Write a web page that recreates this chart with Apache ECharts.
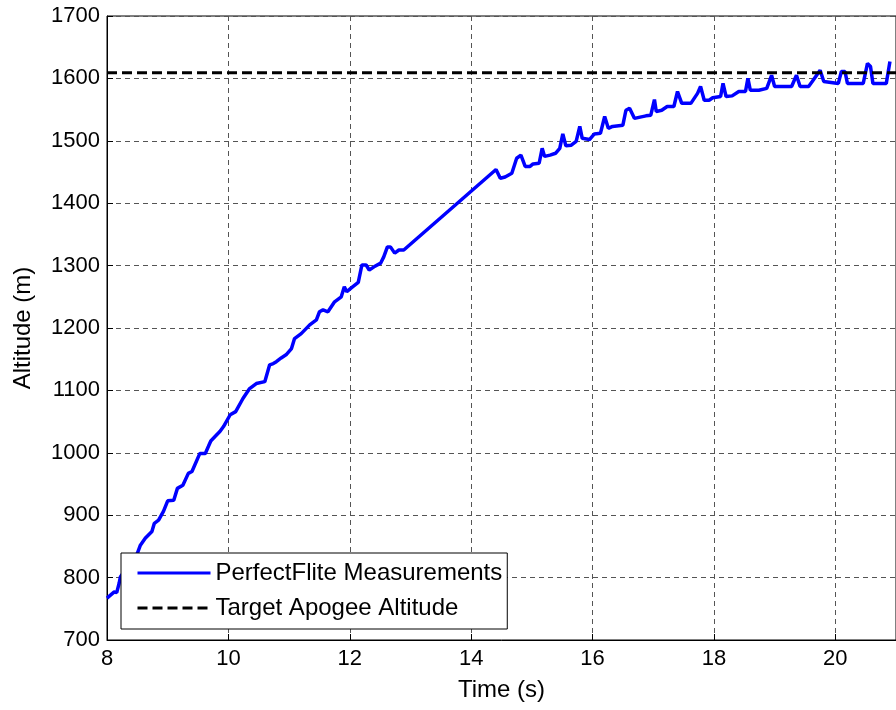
<!DOCTYPE html>
<html>
<head>
<meta charset="utf-8">
<script src="https://cdn.jsdelivr.net/npm/echarts@6/dist/echarts.min.js"></script>
<style>
html,body{margin:0;padding:0;background:#fff;}
#chart{width:896px;height:710px;}
</style>
</head>
<body>
<div id="chart"></div>
<script>
// Time (s)
var timeValues = [8.00, 8.12, 8.16, 8.20, 8.22, 8.30, 8.40, 8.50, 8.55, 8.63, 8.74, 8.78, 8.85, 8.93, 9.00, 9.10, 9.16, 9.25, 9.34, 9.40, 9.53, 9.62, 9.67, 9.71, 9.78, 9.86, 9.92, 10.03, 10.12, 10.24, 10.35, 10.46, 10.60, 10.68, 10.74, 10.79, 10.87, 10.95, 11.04, 11.09, 11.20, 11.34, 11.45, 11.50, 11.56, 11.64, 11.75, 11.86, 11.91, 11.95, 12.02, 12.14, 12.20, 12.27, 12.32, 12.40, 12.51, 12.56, 12.62, 12.67, 12.74, 12.81, 12.89, 14.41, 14.48, 14.56, 14.67, 14.75, 14.82, 14.89, 14.97, 15.02, 15.12, 15.17, 15.21, 15.30, 15.39, 15.46, 15.51, 15.56, 15.65, 15.73, 15.79, 15.83, 15.95, 16.03, 16.13, 16.20, 16.26, 16.33, 16.50, 16.55, 16.61, 16.69, 16.88, 16.96, 17.02, 17.05, 17.14, 17.23, 17.34, 17.40, 17.47, 17.62, 17.73, 17.78, 17.84, 17.92, 17.98, 18.11, 18.15, 18.20, 18.30, 18.41, 18.52, 18.56, 18.60, 18.74, 18.87, 18.95, 19.00, 19.28, 19.36, 19.42, 19.56, 19.62, 19.75, 19.81, 20.05, 20.10, 20.16, 20.20, 20.46, 20.53, 20.58, 20.62, 20.84, 20.90];
// Altitude (m), PerfectFlite measurements
var altitudeValues = [767, 777, 776, 791, 801, 812, 825, 839, 852, 863, 874, 887, 892, 906, 923, 924, 943, 948, 967, 970, 999, 999, 1010, 1019, 1026, 1034, 1042, 1061, 1066, 1087, 1103, 1111, 1114, 1141, 1143, 1146, 1152, 1157, 1167, 1183, 1191, 1205, 1213, 1226, 1229, 1226, 1242, 1250, 1266, 1258, 1264, 1273, 1301, 1301, 1293, 1298, 1304, 1314, 1330, 1330, 1320, 1325, 1325, 1454, 1440, 1442, 1448, 1472, 1477, 1459, 1459, 1463, 1464, 1488, 1475, 1477, 1480, 1488, 1511, 1492, 1493, 1499, 1523, 1504, 1502, 1511, 1512, 1539, 1520, 1523, 1525, 1549, 1552, 1536, 1540, 1541, 1566, 1547, 1549, 1555, 1555, 1579, 1560, 1560, 1576, 1587, 1565, 1565, 1569, 1571, 1592, 1571, 1572, 1579, 1579, 1600, 1581, 1581, 1584, 1605, 1587, 1587, 1605, 1587, 1587, 1595, 1613, 1595, 1592, 1611, 1611, 1592, 1592, 1624, 1619, 1592, 1592, 1627];
// Target apogee
var targetTimes = [8, 21];
var targetAltitude = 1609;

var seriesNames = ['PerfectFlite Measurements', 'Target Apogee Altitude'];
var xLabelName = 'Time (s)';
var yLabelName = 'Altitude (m)';

var measured = timeValues.map(function(t, i){ return [t, altitudeValues[i]]; });
var target = targetTimes.map(function(t){ return [t, targetAltitude]; });

var font = 'Liberation Sans, Arial, sans-serif';
var gridLine = {show: true, lineStyle: {color: '#555', type: [5, 4], width: 1}};
var plain = function(v){ return String(v); };

var chart = echarts.init(document.getElementById('chart'), null, {renderer: 'canvas'});
chart.setOption({
  backgroundColor: '#fff',
  animation: false,
  grid: {left: 107, top: 16, width: 794, height: 624, show: true, borderColor: '#000', borderWidth: 1, backgroundColor: 'transparent'},
  xAxis: {
    type: 'value', min: 8, max: 21, interval: 2,
    name: xLabelName, nameLocation: 'middle', nameGap: 38,
    nameTextStyle: {fontFamily: font, fontSize: 24, color: '#000'},
    axisLine: {show: true, onZero: false, lineStyle: {color: '#000', width: 1}},
    axisTick: {show: true, inside: true, length: 6, lineStyle: {color: '#000'}},
    axisLabel: {fontFamily: font, fontSize: 22, color: '#000', margin: 8, showMaxLabel: false, formatter: plain},
    splitLine: gridLine
  },
  yAxis: {
    type: 'value', min: 700, max: 1700, interval: 100,
    name: yLabelName, nameLocation: 'middle', nameGap: 72,
    nameTextStyle: {fontFamily: font, fontSize: 24, color: '#000'},
    axisLine: {show: true, onZero: false, lineStyle: {color: '#000', width: 1}},
    axisTick: {show: true, inside: true, length: 6, lineStyle: {color: '#000'}},
    axisLabel: {fontFamily: font, fontSize: 22, color: '#000', margin: 7, formatter: plain},
    splitLine: gridLine
  },
  legend: {
    orient: 'vertical', left: 121, top: 553,
    padding: [7, 5, 8, 15], itemGap: 9,
    itemWidth: 73, itemHeight: 14,
    backgroundColor: '#fff', borderColor: '#000', borderWidth: 1, borderRadius: 0,
    itemStyle: {opacity: 0},
    lineStyle: {width: 3},
    textStyle: {fontFamily: font, fontSize: 24, color: '#000', lineHeight: 26},
    data: seriesNames
  },
  series: [
    {
      name: seriesNames[0], type: 'line', data: measured, showSymbol: false, symbol: 'none',
      lineStyle: {color: '#0000ff', width: 3.5}, itemStyle: {color: '#0000ff'}, z: 3
    },
    {
      name: seriesNames[1], type: 'line', data: target, showSymbol: false, symbol: 'none',
      lineStyle: {color: '#000', width: 3, type: [10, 5]}, itemStyle: {color: '#000'}, z: 4
    }
  ]
});
</script>
</body>
</html>
